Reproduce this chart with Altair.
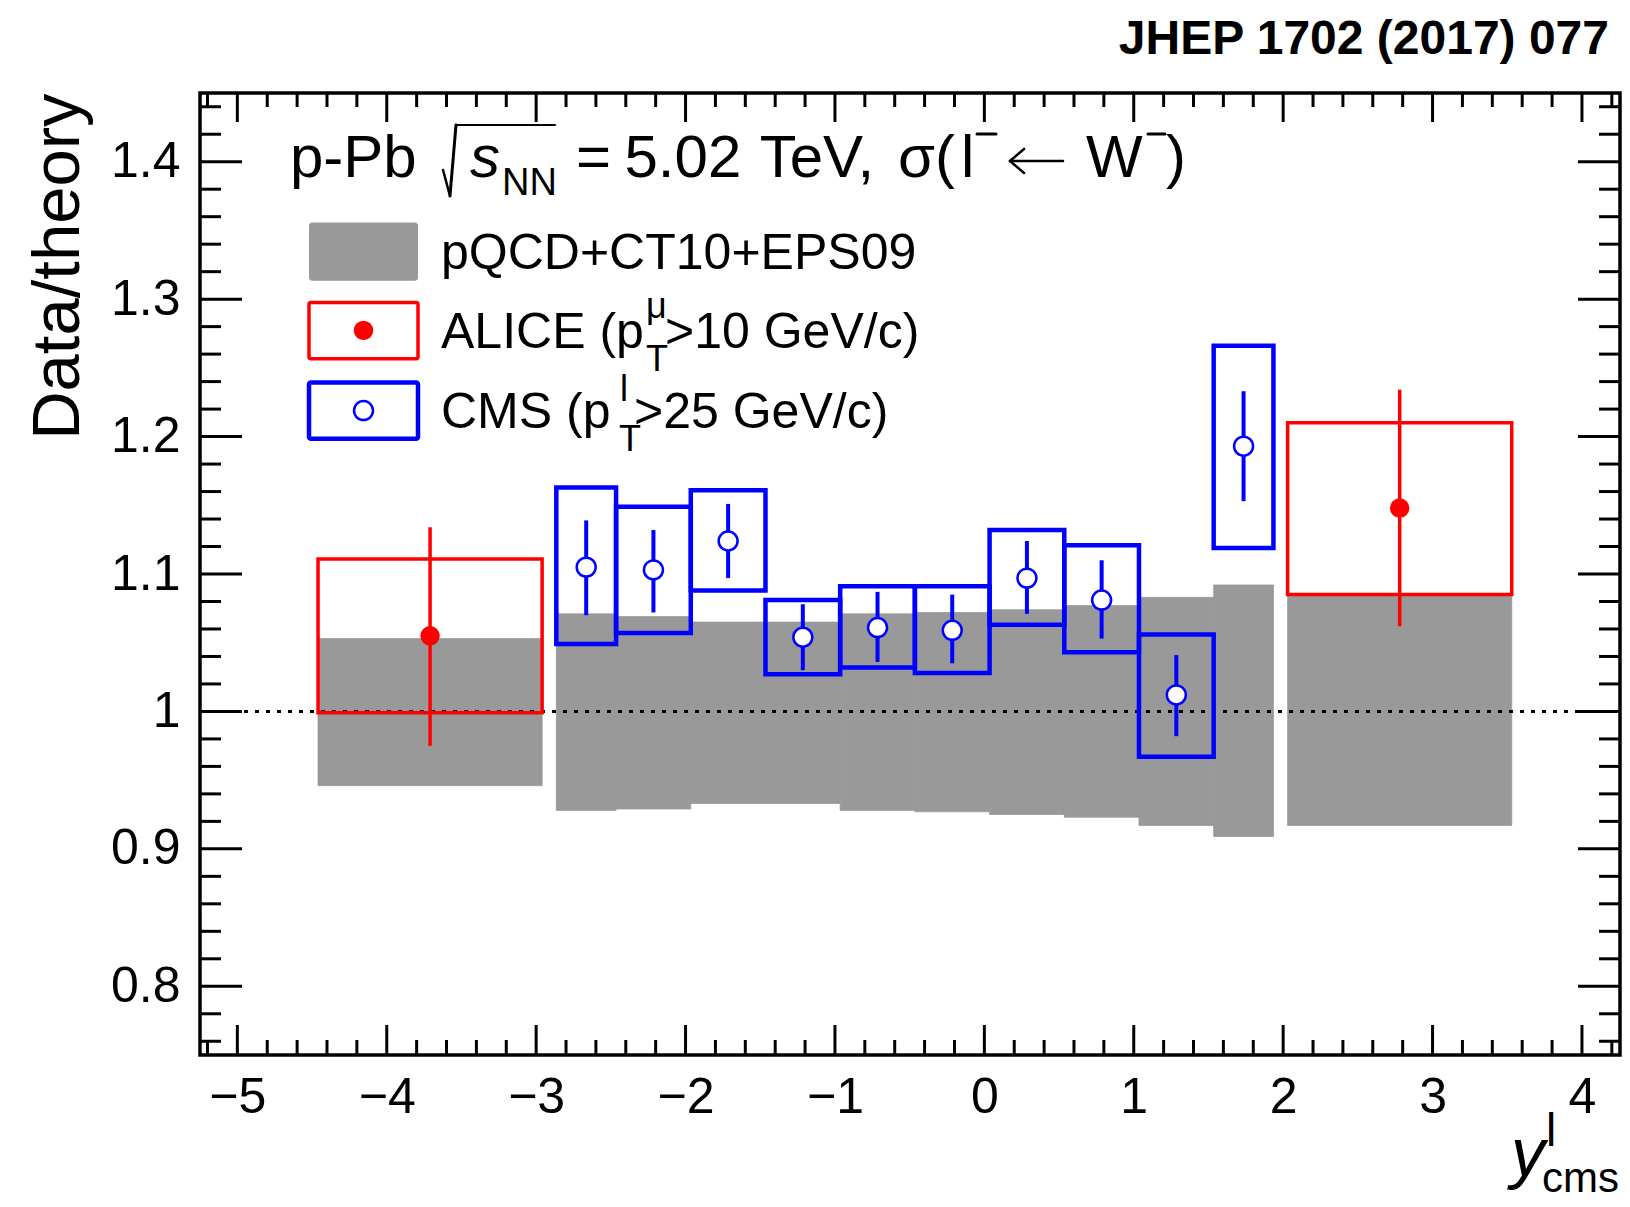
import altair as alt
import pandas as pd

FONT = "Liberation Sans"

# ---------------- data ----------------
# theory band pQCD+CT10+EPS09 (bins: ALICE backward, 10 CMS bins, ALICE forward)
theory_lo_edge = [-4.46, -2.865, -2.465, -1.965, -1.465, -0.965, -0.465, 0.035, 0.535, 1.035, 1.535, 2.03]
theory_hi_edge = [-2.96, -2.465, -1.965, -1.465, -0.965, -0.465, 0.035, 0.535, 1.035, 1.535, 1.935, 3.53]
theory_lo = [0.946, 0.928, 0.929, 0.933, 0.933, 0.928, 0.927, 0.925, 0.923, 0.917, 0.909, 0.917]
theory_hi = [1.053, 1.071, 1.069, 1.065, 1.065, 1.071, 1.072, 1.074, 1.077, 1.083, 1.092, 1.084]

# ALICE
alice_x = [-3.71, 2.78]
alice_lo_edge = [-4.46, 2.03]
alice_hi_edge = [-2.96, 3.53]
alice_val = [1.055, 1.148]
alice_stat_lo = [0.975, 1.062]
alice_stat_hi = [1.134, 1.234]
alice_syst_lo = [0.999, 1.085]
alice_syst_hi = [1.111, 1.210]

# CMS
cms_x = [-2.665, -2.215, -1.715, -1.215, -0.715, -0.215, 0.285, 0.785, 1.285, 1.735]
cms_lo_edge = [-2.865, -2.465, -1.965, -1.465, -0.965, -0.465, 0.035, 0.535, 1.035, 1.535]
cms_hi_edge = [-2.465, -1.965, -1.465, -0.965, -0.465, 0.035, 0.535, 1.035, 1.535, 1.935]
cms_val = [1.105, 1.103, 1.124, 1.054, 1.061, 1.059, 1.097, 1.081, 1.012, 1.193]
cms_stat_lo = [1.070, 1.072, 1.097, 1.030, 1.036, 1.035, 1.071, 1.053, 0.982, 1.153]
cms_stat_hi = [1.139, 1.132, 1.151, 1.078, 1.087, 1.085, 1.124, 1.110, 1.041, 1.233]
cms_syst_lo = [1.049, 1.057, 1.088, 1.027, 1.032, 1.028, 1.063, 1.043, 0.967, 1.119]
cms_syst_hi = [1.163, 1.149, 1.161, 1.081, 1.091, 1.091, 1.132, 1.121, 1.056, 1.266]

# axis ticks
x_major = [-5, -4, -3, -2, -1, 0, 1, 2, 3, 4]
y_major = [0.8, 0.9, 1.0, 1.1, 1.2, 1.3, 1.4]
x_minor = [v for v in (round(-5.2 + 0.2 * i, 2) for i in range(48)) if abs(v - round(v)) > 1e-6]
y_minor = [v for v in (round(0.76 + 0.02 * i, 2) for i in range(35)) if abs(v * 10 - round(v * 10)) > 1e-6]

# ---------------- layout ----------------
PX_PER_UNIT = 149.4
W, H = 1420, 962
X_LO = -5.25
xs = alt.Scale(domain=[X_LO, X_LO + W / PX_PER_UNIT], nice=False, zero=False)
ys = alt.Scale(domain=[0.75, 1.45], nice=False, zero=False)


def X(f="x"):
    return alt.X(f"{f}:Q", scale=xs)


def Y(f="y"):
    return alt.Y(f"{f}:Q", scale=ys)


layers = []

# theory bands (carry the axes)
theory = pd.DataFrame({"x": theory_lo_edge, "x2": theory_hi_edge, "y": theory_lo, "y2": theory_hi})
layers.append(
    alt.Chart(theory).mark_rect(color="#999999", stroke="#999999", strokeWidth=0.8).encode(
        x=alt.X("x:Q", scale=xs, axis=alt.Axis(
            values=x_major, format="d", title="", ticks=False, tickSize=0, domain=False, grid=False,
            labelFont=FONT, labelFontSize=50, labelColor="black", labelPadding=17,
            labelFlush=False, labelOverlap=False, labelBound=False)),
        x2="x2:Q",
        y=alt.Y("y:Q", scale=ys, axis=alt.Axis(
            values=y_major, labelExpr="datum.value == 1 ? '1' : format(datum.value, '.1f')",
            ticks=False, tickSize=0, domain=False, grid=False,
            labelFont=FONT, labelFontSize=50, labelColor="black", labelPadding=20,
            labelFlush=False, labelOverlap=False, labelBound=False,
            title="Data/theory", titleFont=FONT, titleFontSize=67, titleFontWeight="normal",
            titleColor="black", titleAngle=270, titleX=-122, titleY=0, titleAlign="right",
            titleBaseline="alphabetic")),
        y2="y2:Q",
    )
)

# dotted line at 1
layers.append(
    alt.Chart(pd.DataFrame({"y": [1.0]})).mark_rule(color="black", strokeWidth=3, strokeDash=[4, 7]).encode(
        y=Y(), x=alt.value(0), x2=alt.value(W))
)

# systematic boxes
alice = pd.DataFrame({"x": alice_x, "xl": alice_lo_edge, "xh": alice_hi_edge, "v": alice_val,
                      "sl": alice_stat_lo, "sh": alice_stat_hi, "yl": alice_syst_lo, "yh": alice_syst_hi})
cms = pd.DataFrame({"x": cms_x, "xl": cms_lo_edge, "xh": cms_hi_edge, "v": cms_val,
                    "sl": cms_stat_lo, "sh": cms_stat_hi, "yl": cms_syst_lo, "yh": cms_syst_hi})

layers.append(alt.Chart(alice).mark_rect(stroke="red", strokeWidth=3.5, fill="white", fillOpacity=0).encode(
    x=X("xl"), x2="xh:Q", y=Y("yl"), y2="yh:Q"))
layers.append(alt.Chart(cms).mark_rect(stroke="blue", strokeWidth=4.5, fill="white", fillOpacity=0).encode(
    x=X("xl"), x2="xh:Q", y=Y("yl"), y2="yh:Q"))

# statistical error bars
layers.append(alt.Chart(alice).mark_rule(color="red", strokeWidth=3.5).encode(x=X("x"), y=Y("sl"), y2="sh:Q"))
layers.append(alt.Chart(cms).mark_rule(color="blue", strokeWidth=4).encode(x=X("x"), y=Y("sl"), y2="sh:Q"))

# markers
layers.append(alt.Chart(alice).mark_point(shape="circle", filled=True, color="red", size=380, opacity=1).encode(
    x=X("x"), y=Y("v")))
layers.append(alt.Chart(cms).mark_point(shape="circle", filled=True, fill="white", stroke="blue",
                                         strokeWidth=2.5, size=360, opacity=1).encode(x=X("x"), y=Y("v")))

# frame ticks (inside the frame, on all four sides)
tk = dict(color="black", strokeWidth=3)
xmaj = pd.DataFrame({"v": x_major})
xmin = pd.DataFrame({"v": x_minor})
ymaj = pd.DataFrame({"v": y_major})
ymin = pd.DataFrame({"v": y_minor})
layers += [
    alt.Chart(xmaj).mark_rule(**tk).encode(x=X("v"), y=alt.value(H), y2=alt.value(H - 30)),
    alt.Chart(xmaj).mark_rule(**tk).encode(x=X("v"), y=alt.value(0), y2=alt.value(29)),
    alt.Chart(xmin).mark_rule(**tk).encode(x=X("v"), y=alt.value(H), y2=alt.value(H - 15)),
    alt.Chart(xmin).mark_rule(**tk).encode(x=X("v"), y=alt.value(0), y2=alt.value(14)),
    alt.Chart(ymaj).mark_rule(**tk).encode(y=Y("v"), x=alt.value(0), x2=alt.value(42)),
    alt.Chart(ymaj).mark_rule(**tk).encode(y=Y("v"), x=alt.value(W), x2=alt.value(W - 42)),
    alt.Chart(ymin).mark_rule(**tk).encode(y=Y("v"), x=alt.value(0), x2=alt.value(21)),
    alt.Chart(ymin).mark_rule(**tk).encode(y=Y("v"), x=alt.value(W), x2=alt.value(W - 21)),
]

# ---------------- legend (drawn in data coordinates) ----------------
leg_x0, leg_x1 = -4.5204, -3.7908
leg_cx = -4.1556
layers.append(alt.Chart(pd.DataFrame({"x": [leg_x0], "x2": [leg_x1], "y": [1.3134], "y2": [1.3558]}))
              .mark_rect(color="#999999", cornerRadius=3).encode(x=X(), x2="x2:Q", y=Y(), y2="y2:Q"))
layers.append(alt.Chart(pd.DataFrame({"x": [leg_x0], "x2": [leg_x1], "y": [1.2567], "y2": [1.2976]}))
              .mark_rect(stroke="red", strokeWidth=3.5, fill="white", fillOpacity=0, cornerRadius=2)
              .encode(x=X(), x2="x2:Q", y=Y(), y2="y2:Q"))
layers.append(alt.Chart(pd.DataFrame({"x": [leg_x0], "x2": [leg_x1], "y": [1.1985], "y2": [1.2393]}))
              .mark_rect(stroke="blue", strokeWidth=4.5, fill="white", fillOpacity=0, cornerRadius=2)
              .encode(x=X(), x2="x2:Q", y=Y(), y2="y2:Q"))
layers.append(alt.Chart(pd.DataFrame({"x": [leg_cx], "y": [1.2772]}))
              .mark_point(shape="circle", filled=True, color="red", size=380, opacity=1).encode(x=X(), y=Y()))
layers.append(alt.Chart(pd.DataFrame({"x": [leg_cx], "y": [1.2189]}))
              .mark_point(shape="circle", filled=True, fill="white", stroke="blue", strokeWidth=2.5,
                          size=360, opacity=1).encode(x=X(), y=Y()))

# radical sign of sqrt(s_NN), the "<-" arrow and the superscript minus signs, drawn as strokes
glyph_lines = pd.DataFrame({
    "x":  [-3.6235, -3.5767, -3.5365, 0.1717, 0.1717, 0.1717, -0.0492, 1.0954],
    "y":  [1.3940, 1.3751, 1.4267, 1.4005, 1.4005, 1.4005, 1.4201, 1.4201],
    "x2": [-3.5767, -3.5365, -2.8738, 0.5264, 0.2654, 0.2654, 0.0780, 1.2091],
    "y2": [1.3751, 1.4267, 1.4267, 1.4005, 1.4093, 1.3918, 1.4201, 1.4201],
    "w":  [2.5, 3.0, 2.0, 2.5, 2.5, 2.5, 3.0, 3.0]})
layers.append(alt.Chart(glyph_lines).mark_rule(color="black", strokeCap="round").encode(
    x=X(), y=Y(), x2="x2:Q", y2="y2:Q", strokeWidth=alt.StrokeWidth("w:Q", scale=None)))

# ---------------- text ----------------
plain_text = ["p-Pb", "=", "5.02", "TeV,", "σ(", "l", "W", ")", "NN",
              "pQCD+CT10+EPS09", "ALICE (p", "T", "μ", ">10 GeV/c)",
              "CMS (p", "T", "l", ">25 GeV/c)",
              "l", "cms"]
plain_x = [-4.6476, -2.7333, -2.4087, -1.5037, -0.578, -0.1564, 0.6803, 1.2158, -3.2286,
           -3.6369, -3.6369, -2.2647, -2.2647, -2.1376,
           -3.6369, -2.4454, -2.4387, -2.3450,
           3.7594, 3.7325]
plain_y = [1.3889, 1.3889, 1.3889, 1.3889, 1.3889, 1.3889, 1.3889, 1.3889, 1.3758,
           1.3219, 1.2644, 1.2477, 1.2863, 1.2644,
           1.2062, 1.1895, 1.2259, 1.2062,
           0.6838, 0.6503]
plain_size = [60, 60, 60, 60, 60, 60, 60, 60, 38,
              50, 50, 36, 36, 50,
              50, 36, 36, 50,
              46, 42]
layers.append(alt.Chart(pd.DataFrame({"x": plain_x, "y": plain_y, "t": plain_text, "s": plain_size}))
              .mark_text(align="left", baseline="alphabetic", font=FONT, color="black")
              .encode(x=X(), y=Y(), text="t:N", size=alt.Size("s:Q", scale=None)))

italic_text = ["s", "y"]
italic_x = [-3.4428, 3.5250]
italic_y = [1.3889, 0.6620]
italic_size = [60, 68]
layers.append(alt.Chart(pd.DataFrame({"x": italic_x, "y": italic_y, "t": italic_text, "s": italic_size}))
              .mark_text(align="left", baseline="alphabetic", font=FONT, fontStyle="italic", color="black")
              .encode(x=X(), y=Y(), text="t:N", size=alt.Size("s:Q", scale=None)))

header = pd.DataFrame({"x": [4.181], "y": [1.4784], "t": ["JHEP 1702 (2017) 077"]})
layers.append(alt.Chart(header)
              .mark_text(align="right", baseline="alphabetic", font=FONT, fontWeight="bold",
                         fontSize=48, color="black")
              .encode(x=X(), y=Y(), text="t:N"))

chart = (
    alt.layer(*layers)
    .properties(width=W, height=H, autosize=alt.AutoSizeParams(type="none"),
                padding={"left": 192, "top": 85, "right": 2, "bottom": 144},
                background="white")
    .configure_view(stroke="black", strokeWidth=3.5)
    .configure_axis(grid=False, ticks=False, domain=False)
)

chart.save("out.html", embed_options={"renderer": "svg", "actions": False})
